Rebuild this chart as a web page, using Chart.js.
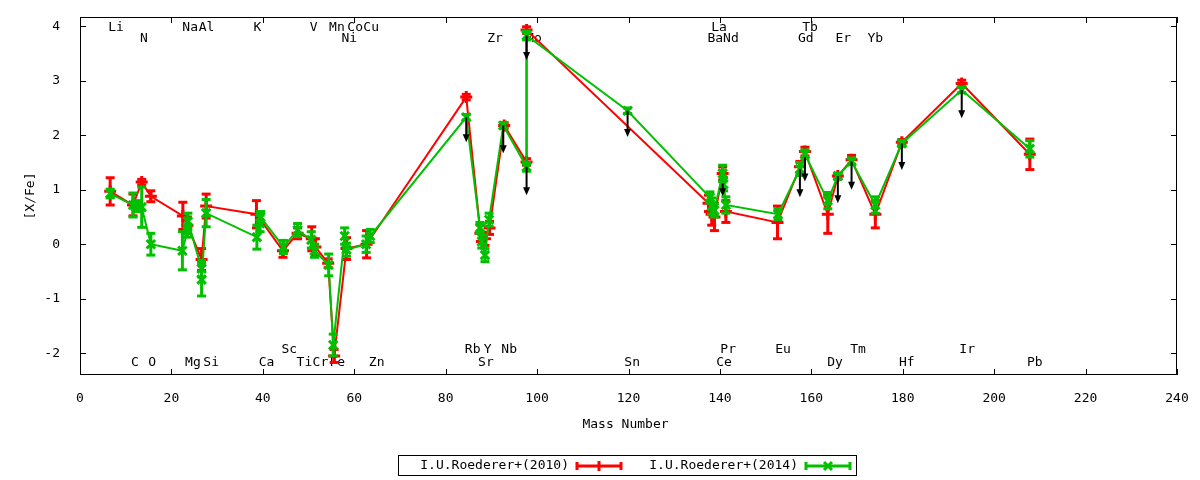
<!DOCTYPE html>
<html>
<head>
<meta charset="utf-8">
<title>[X/Fe] vs Mass Number</title>
<script src="https://cdn.jsdelivr.net/npm/chart.js@4.4.0/dist/chart.umd.min.js"></script>
<style>
    html, body { margin: 0; padding: 0; background: #fff; }
    #abundChart { display: block; }
</style>
</head>
<body>
<canvas id="abundChart" width="1200" height="480"></canvas>
<script>
// I.U.Roederer+(2010)
const mass2010 = [6.6, 11.6, 13.5, 15.5, 22.5, 23.5, 26.6, 27.6, 38.6, 44.4, 47.6, 50.7, 51.5, 54.3, 55.6, 58.3, 62.7,
    84.5, 87.6, 88.6, 89.6, 92.8, 97.7, 97.7, 137.5, 138.2, 138.8, 140.6, 141.3, 152.6, 157.5, 158.6,
    163.6, 165.8, 168.8, 174.0, 179.8, 192.9, 207.8];
const xfe2010 = [0.97, 0.72, 1.14, 0.88, 0.52, 0.35, -0.28, 0.7, 0.55, -0.12, 0.2, 0.1, -0.05, -0.35, -2.05, -0.08, 0.0,
    2.7, 0.2, 0.1, 0.3, 2.18, 1.51, 3.93, 0.75, 0.55, 0.5, 1.3, 0.6, 0.4, 1.42, 1.7,
    0.55, 1.25, 1.55, 0.55, 1.87, 2.95, 1.65];
const err2010 = [0.25, 0.2, 0.05, 0.1, 0.25, 0.15, 0.2, 0.22, 0.25, 0.12, 0.1, 0.22, 0.15, 0.08, 0.12, 0.2, 0.25,
    0.05, 0.15, 0.12, 0.12, 0.05, 0.06, 0.06, 0.15, 0.2, 0.25, 0.12, 0.2, 0.3, 0.1, 0.08,
    0.35, 0.05, 0.08, 0.25, 0.05, 0.06, 0.28];

// I.U.Roederer+(2014)
const mass2014 = [6.6, 11.6, 12.5, 13.5, 15.5, 22.4, 23.5, 23.6, 26.6, 26.6, 27.6, 38.7, 39.4, 39.5, 44.5, 47.6, 50.6,
    51.3, 54.4, 55.4, 57.9, 58.3, 62.6, 63.5, 84.5, 87.5, 87.9, 88.6, 89.5, 92.6, 97.7, 97.7, 119.8,
    137.8, 138.2, 138.8, 140.6, 140.8, 141.3, 152.7, 157.5, 158.6, 163.6, 165.8, 168.8, 174.0, 179.8, 192.9, 207.8];
const xfe2014 = [0.93, 0.72, 0.7, 0.68, 0.0, -0.12, 0.25, 0.42, -0.45, -0.65, 0.57, 0.13, 0.38, 0.5, -0.05, 0.26, 0.08,
    -0.12, -0.38, -1.85, 0.15, -0.1, 0.0, 0.15, 2.33, 0.3, 0.05, -0.2, 0.45, 2.18, 1.42, 3.83, 2.45,
    0.86, 0.7, 0.62, 1.3, 1.1, 0.72, 0.55, 1.38, 1.65, 0.8, 1.25, 1.52, 0.72, 1.85, 2.83, 1.75];
const err2014 = [0.08, 0.22, 0.1, 0.37, 0.2, 0.35, 0.12, 0.15, 0.15, 0.3, 0.25, 0.22, 0.15, 0.1, 0.12, 0.12, 0.15,
    0.12, 0.2, 0.2, 0.15, 0.12, 0.15, 0.12, 0.05, 0.1, 0.12, 0.12, 0.12, 0.05, 0.08, 0.08, 0.05,
    0.1, 0.15, 0.12, 0.15, 0.12, 0.15, 0.1, 0.12, 0.08, 0.15, 0.05, 0.06, 0.15, 0.05, 0.05, 0.15];

// upper limits (black arrows)
const limitMass = [84.5, 92.6, 97.7, 97.7, 119.8, 140.6, 157.5, 158.6, 165.8, 168.8, 179.8, 192.9];
const limitFrom = [2.33, 2.18, 1.42, 3.83, 2.45, 1.12, 1.38, 1.6, 1.25, 1.52, 1.85, 2.83];
const limitTo = [1.87, 1.67, 0.9, 3.38, 1.97, 0.88, 0.86, 1.15, 0.75, 1.0, 1.36, 2.31];

// element labels
const elemNames = ['Li', 'Na', 'Al', 'K', 'V', 'Mn', 'Co', 'Cu', 'La', 'Tb',
    'N', 'Ni', 'Zr', 'Mo', 'Ba', 'Nd', 'Gd', 'Er', 'Yb',
    'Sc', 'Rb', 'Y', 'Nb', 'Pr', 'Eu', 'Tm', 'Ir',
    'C', 'O', 'Mg', 'Si', 'Ca', 'Ti', 'Cr', 'Fe', 'Zn', 'Sr', 'Sn', 'Ce', 'Dy', 'Hf', 'Pb'];
const elemMass = [7.9, 24.1, 27.7, 38.8, 51.1, 56.2, 60.2, 63.7, 139.8, 159.7,
    14.0, 58.9, 90.8, 99.3, 139.0, 142.4, 158.8, 167.0, 174.0,
    45.8, 85.9, 89.2, 93.9, 141.8, 153.8, 170.2, 194.1,
    12.0, 15.8, 24.7, 28.7, 40.8, 49.1, 52.6, 56.3, 64.9, 88.8, 120.8, 140.9, 165.2, 180.9, 208.9];
const elemY = [3.97, 3.97, 3.97, 3.97, 3.97, 3.97, 3.97, 3.97, 3.97, 3.97,
    3.78, 3.78, 3.78, 3.78, 3.78, 3.78, 3.78, 3.78, 3.78,
    -1.93, -1.93, -1.93, -1.93, -1.93, -1.93, -1.93, -1.93,
    -2.18, -2.18, -2.18, -2.18, -2.18, -2.18, -2.18, -2.18, -2.18, -2.18, -2.18, -2.18, -2.18, -2.18, -2.18];

const xTicks = [0, 20, 40, 60, 80, 100, 120, 140, 160, 180, 200, 220, 240];
const yTicks = [-2, -1, 0, 1, 2, 3, 4];

const FONT = "'DejaVu Sans Mono', monospace";
const RED = '#ff0000';
const GREEN = '#00c000';

function toPoints(xs, ys) {
    return xs.map((x, i) => ({ x: x, y: ys[i] }));
}

function drawCap(ctx, x, y, half) {
    ctx.beginPath();
    ctx.moveTo(x - half, y);
    ctx.lineTo(x + half, y);
    ctx.stroke();
}

// error bars, drawn just before each dataset
const errorBarPlugin = {
    id: 'errorBars',
    beforeDatasetDraw(chart, args) {
        const ds = chart.data.datasets[args.index];
        if (!ds.errors) return;
        const ctx = chart.ctx;
        const yScale = chart.scales.y;
        ctx.save();
        ctx.strokeStyle = ds.borderColor;
        ctx.lineWidth = 3;
        args.meta.data.forEach((pt, i) => {
            const v = ds.data[i].y;
            const e = ds.errors[i];
            const top = yScale.getPixelForValue(v + e);
            const bot = yScale.getPixelForValue(v - e);
            ctx.beginPath();
            ctx.moveTo(pt.x, top);
            ctx.lineTo(pt.x, bot);
            ctx.stroke();
            drawCap(ctx, pt.x, top, 4.5);
            drawCap(ctx, pt.x, bot, 4.5);
        });
        ctx.restore();
    }
};

// element names, axis titles, frame, ticks, upper-limit arrows, legend
const decorPlugin = {
    id: 'decor',
    beforeDatasetsDraw(chart) {
        const ctx = chart.ctx;
        const xs = chart.scales.x, ys = chart.scales.y;
        ctx.save();
        ctx.fillStyle = '#000';
        ctx.font = '13px ' + FONT;
        ctx.textAlign = 'center';
        ctx.textBaseline = 'middle';
        elemNames.forEach((n, i) => {
            ctx.fillText(n, xs.getPixelForValue(elemMass[i]), ys.getPixelForValue(elemY[i]));
        });
        ctx.restore();
    },
    afterDatasetsDraw(chart) {
        const ctx = chart.ctx;
        const xs = chart.scales.x, ys = chart.scales.y;
        const a = chart.chartArea;

        // arrows
        ctx.save();
        ctx.strokeStyle = '#000';
        ctx.fillStyle = '#000';
        ctx.lineWidth = 2;
        limitMass.forEach((m, i) => {
            const x = xs.getPixelForValue(m);
            const y0 = ys.getPixelForValue(limitFrom[i]);
            const y1 = ys.getPixelForValue(limitTo[i]);
            ctx.beginPath();
            ctx.moveTo(x, y0);
            ctx.lineTo(x, y1 - 6);
            ctx.stroke();
            ctx.beginPath();
            ctx.moveTo(x - 3.5, y1 - 8);
            ctx.lineTo(x + 3.5, y1 - 8);
            ctx.lineTo(x, y1);
            ctx.closePath();
            ctx.fill();
        });
        ctx.restore();

        // frame and inward ticks
        ctx.save();
        ctx.strokeStyle = '#000';
        ctx.lineWidth = 1;
        ctx.strokeRect(a.left + 0.5, a.top + 0.5, a.right - a.left - 1, a.bottom - a.top - 1);
        ctx.beginPath();
        xTicks.forEach(v => {
            const x = Math.round(xs.getPixelForValue(v)) + 0.5;
            ctx.moveTo(x, a.bottom);
            ctx.lineTo(x, a.bottom - 6);
            ctx.moveTo(x, a.top);
            ctx.lineTo(x, a.top + 6);
        });
        yTicks.forEach(v => {
            const y = Math.round(ys.getPixelForValue(v)) + 0.5;
            ctx.moveTo(a.left, y);
            ctx.lineTo(a.left + 6, y);
            ctx.moveTo(a.right, y);
            ctx.lineTo(a.right - 6, y);
        });
        ctx.stroke();

        // axis titles
        ctx.fillStyle = '#000';
        ctx.font = '13px ' + FONT;
        ctx.textAlign = 'center';
        ctx.textBaseline = 'middle';
        ctx.fillText('Mass Number', (a.left + a.right) / 2 - 3, 425);
        ctx.save();
        ctx.translate(31, (a.top + a.bottom) / 2);
        ctx.rotate(-Math.PI / 2);
        ctx.fillText('[X/Fe]', 0, 0);
        ctx.restore();

        // legend
        ctx.strokeRect(398.5, 455.5, 458, 20);
        ctx.textAlign = 'right';
        const ly = 466;
        chart.data.datasets.slice().sort((p, q) => p.legendRank - q.legendRank).forEach((ds, k) => {
            const textRight = k === 0 ? 569 : 798;
            const x0 = k === 0 ? 577 : 806;
            const x1 = x0 + 44;
            ctx.fillStyle = '#000';
            ctx.fillText(ds.label, textRight, ly);
            ctx.strokeStyle = ds.borderColor;
            ctx.lineWidth = 3;
            ctx.beginPath();
            ctx.moveTo(x0, ly);
            ctx.lineTo(x1, ly);
            ctx.moveTo(x0, ly - 4);
            ctx.lineTo(x0, ly + 4);
            ctx.moveTo(x1, ly - 4);
            ctx.lineTo(x1, ly + 4);
            ctx.stroke();
            const cx = (x0 + x1) / 2;
            ctx.beginPath();
            if (ds.pointStyle === 'cross') {
                ctx.moveTo(cx, ly - 5);
                ctx.lineTo(cx, ly + 5);
            } else {
                ctx.moveTo(cx - 4, ly - 4);
                ctx.lineTo(cx + 4, ly + 4);
                ctx.moveTo(cx + 4, ly - 4);
                ctx.lineTo(cx - 4, ly + 4);
            }
            ctx.stroke();
        });
        ctx.restore();
    }
};

const tickFont = { family: FONT, size: 13 };

const abundChart = new Chart(document.getElementById('abundChart'), {
    type: 'line',
    data: {
        datasets: [{
            label: 'I.U.Roederer+(2010)',
            data: toPoints(mass2010, xfe2010),
            errors: err2010,
            legendRank: 0,
            borderColor: RED,
            backgroundColor: RED,
            borderWidth: 2,
            pointStyle: 'cross',
            pointRadius: 6,
            pointBorderWidth: 3,
            tension: 0,
            order: 2
        }, {
            label: 'I.U.Roederer+(2014)',
            data: toPoints(mass2014, xfe2014),
            errors: err2014,
            legendRank: 1,
            borderColor: GREEN,
            backgroundColor: GREEN,
            borderWidth: 2,
            pointStyle: 'crossRot',
            pointRadius: 6,
            pointBorderWidth: 3,
            tension: 0,
            order: 1
        }]
    },
    options: {
        responsive: false,
        animation: false,
        devicePixelRatio: 1,
        layout: { padding: { top: 17, right: 23, left: 0, bottom: 0 } },
        plugins: {
            legend: { display: false },
            tooltip: { enabled: false }
        },
        scales: {
            x: {
                type: 'linear',
                min: 0,
                max: 240,
                afterFit: s => { s.height = 105; },
                afterBuildTicks: s => { s.ticks = xTicks.map(v => ({ value: v })); },
                grid: { display: false },
                border: { display: false },
                ticks: { color: '#000', font: tickFont, padding: 8, maxRotation: 0 }
            },
            y: {
                type: 'linear',
                min: -2.4,
                max: 4.17,
                afterFit: s => { s.width = 80; s.paddingTop = 0; s.paddingBottom = 0; },
                afterBuildTicks: s => { s.ticks = yTicks.map(v => ({ value: v })); },
                grid: { display: false },
                border: { display: false },
                ticks: { color: '#000', font: tickFont, padding: 12 }
            }
        }
    },
    plugins: [errorBarPlugin, decorPlugin]
});
</script>
</body>
</html>
